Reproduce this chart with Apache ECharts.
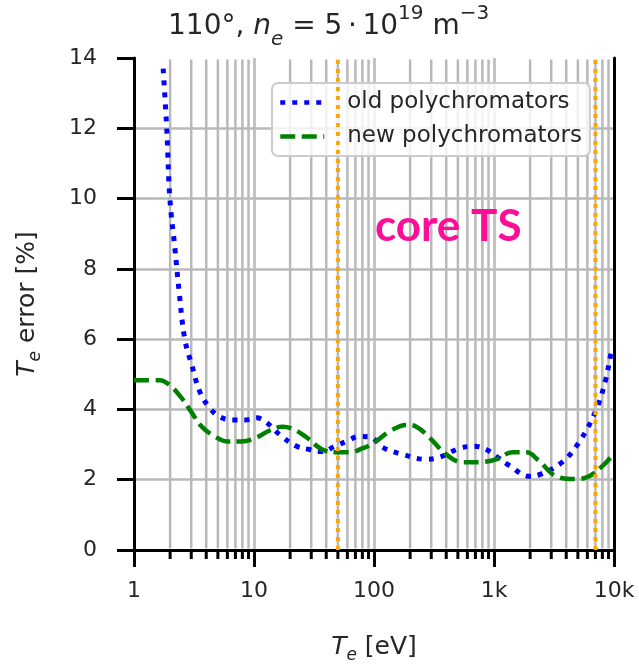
<!DOCTYPE html>
<html>
<head>
<meta charset="utf-8">
<script src="https://cdn.jsdelivr.net/npm/echarts@6/dist/echarts.min.js"></script>
<style>
  html, body { margin: 0; padding: 0; background: #ffffff; }
  #chart { width: 639px; height: 669px; }
</style>
</head>
<body>
<div id="chart"></div>
<script>
// Electron temperature grid (eV) and relative Te error (%) for each polychromator set
const tempOld = [1.75, 1.88, 1.99, 2.19, 2.37, 2.65, 3.04, 3.54, 4.28, 5.19, 6.65, 8.4, 10.5, 12.8, 16.4, 22.7, 29, 37, 47, 59, 75, 92, 118, 173, 273, 351, 514, 685, 862, 1070, 1350, 1960, 2460, 3700, 5100, 7080, 8560, 9440, 10000];
const errOld  = [13.7, 11.9, 10.0, 8.6, 7.4, 6.0, 5.25, 4.5, 4.04, 3.79, 3.7, 3.7, 3.76, 3.62, 3.28, 2.95, 2.86, 2.8, 2.95, 3.09, 3.23, 3.22, 2.92, 2.72, 2.58, 2.64, 2.89, 2.95, 2.86, 2.64, 2.4, 2.1, 2.16, 2.5, 3.06, 3.98, 4.87, 5.58, 5.75];

const tempNew = [1, 1.64, 2.0, 2.5, 3.0, 3.67, 4.72, 5.93, 7.9, 10.5, 13.5, 17.4, 21.8, 27.5, 37, 48.7, 62.5, 80, 100, 134, 186, 225, 290, 400, 545, 754, 1045, 1420, 1860, 2380, 3300, 4800, 6200, 7950, 9440, 10000];
const errNew  = [4.83, 4.83, 4.68, 4.32, 3.93, 3.51, 3.23, 3.09, 3.09, 3.2, 3.4, 3.51, 3.42, 3.2, 2.86, 2.78, 2.78, 2.89, 3.05, 3.37, 3.56, 3.51, 3.2, 2.72, 2.5, 2.5, 2.58, 2.78, 2.78, 2.53, 2.1, 2.02, 2.1, 2.38, 2.64, 2.72];

// Temperature range covered by the core Thomson scattering system (eV)
const coreLimits = [50, 7000];

// Axis ticks
const xMajorTicks = [1, 10, 100, 1000, 10000];
const xTickLabels = ['1', '10', '100', '1k', '10k'];
const yRange = [0, 14];
const xMinorTicks = [];
for (let d = 1; d <= 1000; d *= 10) {
  for (let k = 2; k <= 9; k++) xMinorTicks.push(k * d);
}

const seriesNames = ['old polychromators', 'new polychromators'];

const FONT = 'DejaVu Sans';
const TXT = '#262626';
const GRIDC = '#b9b9b9';

const pairs = (xs, ys) => xs.map((x, i) => [x, ys[i]]);

const chart = echarts.init(document.getElementById('chart'), null, { renderer: 'canvas' });

const option = {
  backgroundColor: '#ffffff',
  animation: false,
  grid: { left: 134, right: 25, top: 58, bottom: 112, containLabel: false },
  legend: {
    data: seriesNames,
    orient: 'vertical',
    left: 272, top: 83,
    itemWidth: 44, itemHeight: 14, itemGap: 11,
    padding: [8, 8, 8, 6],
    backgroundColor: 'rgba(255,255,255,0.8)',
    borderColor: '#cccccc', borderWidth: 2, borderRadius: 6,
    itemStyle: { opacity: 0 },
    lineStyle: { width: 4.5 },
    textStyle: { fontFamily: FONT, fontSize: 23, color: TXT, lineHeight: 22, padding: [0, 0, 0, 18] }
  },
  xAxis: [
    {
      type: 'log', logBase: 10, min: 1, max: 10000, splitNumber: 4,
      position: 'bottom',
      axisLine: { show: true, lineStyle: { color: '#000', width: 3 } },
      axisTick: { show: true, inside: false, length: 17, lineStyle: { color: '#000', width: 3 } },
      axisLabel: {
        margin: 30, fontFamily: FONT, fontSize: 22, color: TXT,
        formatter: v => { const i = xMajorTicks.findIndex(t => Math.abs(t - v) / t < 1e-6); return i >= 0 ? xTickLabels[i] : ''; }
      },
      splitLine: { show: true, showMinLine: false, showMaxLine: false, lineStyle: { color: GRIDC, width: 2.5 } },
      name: '{i|T}{sub|e} [eV]',
      nameLocation: 'middle', nameGap: 80,
      nameTextStyle: {
        fontFamily: FONT, fontSize: 25, color: TXT, lineHeight: 34, verticalAlign: 'top',
        rich: {
          i: { fontFamily: FONT, fontStyle: 'italic', fontSize: 25, color: TXT, lineHeight: 34 },
          sub: { fontFamily: FONT, fontStyle: 'italic', fontSize: 17, color: TXT, lineHeight: 17, verticalAlign: 'bottom' }
        }
      }
    },
    {
      type: 'log', logBase: 10, min: 1, max: 10000, position: 'top',
      axisLine: { show: true, lineStyle: { color: '#000', width: 3 } },
      axisTick: { show: false }, axisLabel: { show: false }, splitLine: { show: false }
    }
  ],
  yAxis: [
    {
      type: 'value', min: yRange[0], max: yRange[1], interval: 2,
      position: 'left',
      axisLine: { show: true, lineStyle: { color: '#000', width: 3 } },
      axisTick: { show: true, inside: false, length: 17, lineStyle: { color: '#000', width: 3 } },
      axisLabel: { margin: 37, fontFamily: FONT, fontSize: 22, color: TXT },
      splitLine: { show: true, showMinLine: false, showMaxLine: false, lineStyle: { color: GRIDC, width: 2.5 } },
      name: '{i|T}{sub|e} error [%]',
      nameLocation: 'middle', nameRotate: 90, nameGap: 90,
      nameTextStyle: {
        fontFamily: FONT, fontSize: 25, color: TXT, lineHeight: 34,
        rich: {
          i: { fontFamily: FONT, fontStyle: 'italic', fontSize: 25, color: TXT, lineHeight: 34 },
          sub: { fontFamily: FONT, fontStyle: 'italic', fontSize: 17, color: TXT, lineHeight: 17, verticalAlign: 'bottom' }
        }
      }
    },
    {
      type: 'value', min: yRange[0], max: yRange[1], position: 'right',
      axisLine: { show: true, lineStyle: { color: '#000', width: 3 } },
      axisTick: { show: false }, axisLabel: { show: false }, splitLine: { show: false }
    }
  ],
  graphic: [
    {
      type: 'text', left: 168, top: 4,
      style: {
        text: '110°, {i|n}{sub|e} = 5\u2009·\u200910{sup|19} m{sup|−3}',
        fontFamily: FONT, fontSize: 28, fill: TXT, lineHeight: 46,
        rich: {
          i: { fontFamily: FONT, fontStyle: 'italic', fontSize: 28, fill: TXT, lineHeight: 46 },
          sub: { fontFamily: FONT, fontStyle: 'italic', fontSize: 20, fill: TXT, lineHeight: 22, verticalAlign: 'bottom' },
          sup: { fontFamily: FONT, fontSize: 20, fill: TXT, lineHeight: 26, verticalAlign: 'top' }
        }
      }
    },
    {
      type: 'text', left: 375, top: 205, z: 10,
      style: { text: 'core TS', fontFamily: 'Lato', fontWeight: 'bold', fontSize: 44, fill: '#fb0f99' }
    }
  ],
  series: [
    {
      // minor grid lines and minor ticks of the log axis
      type: 'custom', name: 'minor', xAxisIndex: 0, yAxisIndex: 0, z: 1, silent: true, clip: false,
      data: xMinorTicks.map(v => [v, yRange[0]]),
      encode: { x: 0, y: 1 },
      renderItem: (params, api) => {
        const v = api.value(0);
        const b = api.coord([v, yRange[0]]);
        const t = api.coord([v, yRange[1]]);
        return {
          type: 'group',
          children: [
            { type: 'line', shape: { x1: b[0], y1: b[1] - 1.5, x2: t[0], y2: t[1] + 1.5 }, style: { stroke: GRIDC, lineWidth: 2.5 } },
            { type: 'line', shape: { x1: b[0], y1: b[1], x2: b[0], y2: b[1] + 9 }, style: { stroke: '#000', lineWidth: 3 } }
          ]
        };
      }
    },
    {
      name: seriesNames[0], type: 'line', xAxisIndex: 0, yAxisIndex: 0, z: 3,
      data: pairs(tempOld, errOld), smooth: 0.4, symbol: 'none', showSymbol: false,
      lineStyle: { color: '#0000ff', width: 5, type: [5, 7], cap: 'butt' },
      itemStyle: { color: '#0000ff' }
    },
    {
      name: seriesNames[1], type: 'line', xAxisIndex: 0, yAxisIndex: 0, z: 4,
      data: pairs(tempNew, errNew), smooth: 0.4, symbol: 'none', showSymbol: false,
      lineStyle: { color: '#008000', width: 4.5, type: [15, 6.5], cap: 'butt' },
      itemStyle: { color: '#008000' }
    },
    ...coreLimits.map((t, i) => ({
      name: 'core' + i, type: 'line', xAxisIndex: 0, yAxisIndex: 0, z: 5, silent: true,
      data: [[t, yRange[0]], [t, yRange[1]]], symbol: 'none', showSymbol: false,
      lineStyle: { color: '#ffa500', width: 4, type: [4, 5], cap: 'butt' }
    }))
  ]
};

chart.setOption(option);
</script>
</body>
</html>
